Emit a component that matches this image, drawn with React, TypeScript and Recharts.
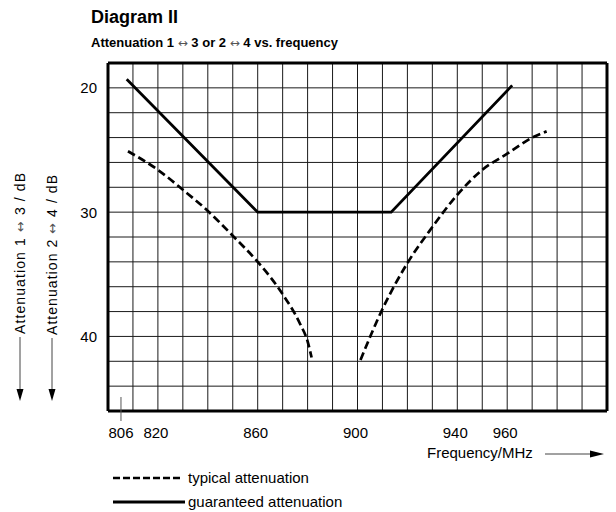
import React from 'react';
import { LineChart, Line, XAxis, YAxis, ReferenceLine } from 'recharts';

const frequencyTicks = [806, 820, 860, 900, 940, 960];
const attenuationTicks = [20, 30, 40];
const gridFrequencies = [810, 820, 830, 840, 850, 860, 870, 880, 890, 900, 910, 920, 930, 940, 950, 960, 970, 980, 990];
const gridAttenuations = [20, 22, 24, 26, 28, 30, 32, 34, 36, 38, 40, 42, 44];
const frameFrequencies = [800, 1000];
const frameAttenuations = [18, 46];

const guaranteedFreq = [807.5, 860, 913.5, 962];
const guaranteedAtt = [19.3, 30, 30, 19.8];
const typicalLowFreq = [808, 820, 830, 840, 850, 860, 870, 877, 880, 881.6];
const typicalLowAtt = [25.1, 26.6, 28.2, 29.9, 31.9, 34.0, 36.6, 39.0, 40.4, 41.7];
const typicalHighFreq = [901.2, 910, 920, 930, 940, 950, 960, 970, 975.8];
const typicalHighAtt = [41.9, 37.8, 34.1, 31.2, 28.6, 26.6, 25.3, 24.0, 23.5];

const toRows = (fs: number[], vs: number[]) => fs.map((f, i) => ({ f, v: vs[i] }));
const guaranteedData = toRows(guaranteedFreq, guaranteedAtt);
const typicalLowData = toRows(typicalLowFreq, typicalLowAtt);
const typicalHighData = toRows(typicalHighFreq, typicalHighAtt);

const FONT = '"Liberation Sans", Arial, Helvetica, sans-serif';
const ARROW_FONT = '"DejaVu Sans", sans-serif';

const XTick = (props: any) => {
  const { x, y, payload } = props;
  return (
    <g>
      {payload.value === 806 && (
        <line x1={x - 2} x2={x - 2} y1={y - 14} y2={y + 10} stroke="#555" strokeWidth={1} />
      )}
      <text x={x - 2} y={y + 27} textAnchor="middle" fontFamily={FONT} fontSize={15} fill="#000">
        {payload.value}
      </text>
    </g>
  );
};

const YTick = (props: any) => {
  const { x, y, payload } = props;
  return (
    <text x={x - 11} y={y + 5.5} textAnchor="end" fontFamily={FONT} fontSize={15} fill="#000">
      {payload.value}
    </text>
  );
};

const Arrow = ({ size }: { size: number }) => (
  <tspan fontFamily={ARROW_FONT} fontSize={size} fontWeight="normal" fill="#555">
    ↔
  </tspan>
);

export default function App() {
  return (
    <div style={{ position: 'absolute', left: 0, top: 0, width: 616, height: 512, background: '#fff' }}>
      <LineChart
        width={616}
        height={512}
        margin={{ top: 63, right: 9, bottom: 61, left: 48 }}
      >
        <XAxis
          type="number"
          dataKey="f"
          domain={[800, 1000]}
          ticks={frequencyTicks}
          interval={0}
          axisLine={false}
          tickLine={false}
          tickSize={0}
          tickMargin={0}
          height={40}
          tick={<XTick />}
          allowDataOverflow
        />
        <YAxis
          type="number"
          domain={[18, 46]}
          reversed
          ticks={attenuationTicks}
          interval={0}
          axisLine={false}
          tickLine={false}
          tickSize={0}
          tickMargin={0}
          width={60}
          tick={<YTick />}
          allowDataOverflow
        />
        {gridFrequencies.map((f) => (
          <ReferenceLine key={'gx' + f} x={f} stroke="#1a1a1a" strokeWidth={1} />
        ))}
        {gridAttenuations.map((a) => (
          <ReferenceLine key={'gy' + a} y={a} stroke="#1a1a1a" strokeWidth={1} />
        ))}
        <Line
          data={typicalLowData}
          dataKey="v"
          type="monotone"
          stroke="#000"
          strokeWidth={2.7}
          strokeDasharray="8 4"
          dot={false}
          isAnimationActive={false}
        />
        <Line
          data={typicalHighData}
          dataKey="v"
          type="monotone"
          stroke="#000"
          strokeWidth={2.7}
          strokeDasharray="8 4"
          dot={false}
          isAnimationActive={false}
        />
        <Line
          data={guaranteedData}
          dataKey="v"
          type="linear"
          stroke="#000"
          strokeWidth={2.8}
          dot={false}
          isAnimationActive={false}
        />
        {frameFrequencies.map((f) => (
          <ReferenceLine key={'fx' + f} x={f} stroke="#000" strokeWidth={3} />
        ))}
        {frameAttenuations.map((a) => (
          <ReferenceLine key={'fy' + a} y={a} stroke="#000" strokeWidth={3} />
        ))}
      </LineChart>
      <svg
        width={616}
        height={512}
        style={{ position: 'absolute', left: 0, top: 0, pointerEvents: 'none' }}
      >
        <text x={91} y={23} fontFamily={FONT} fontSize={18} fontWeight="bold" fill="#000">
          Diagram II
        </text>
        <text x={91} y={47} fontFamily={FONT} fontSize={13} fontWeight="bold" fill="#000">
          Attenuation 1 <Arrow size={12} /> 3 or 2 <Arrow size={12} /> 4 vs. frequency
        </text>

        <text
          transform="translate(25,334) rotate(-90)"
          fontFamily={FONT}
          fontSize={14}
          fill="#000"
          textLength={161}
          lengthAdjust="spacing"
        >
          Attenuation 1 <Arrow size={13} /> 3 / dB
        </text>
        <line x1={20} x2={20} y1={337} y2={391} stroke="#444" strokeWidth={1} />
        <polygon points="16.5,389 23.5,389 20,401" fill="#000" />

        <text
          transform="translate(57,335) rotate(-90)"
          fontFamily={FONT}
          fontSize={14}
          fill="#000"
          textLength={160}
          lengthAdjust="spacing"
        >
          Attenuation 2 <Arrow size={13} /> 4 / dB
        </text>
        <line x1={52} x2={52} y1={338} y2={391} stroke="#444" strokeWidth={1} />
        <polygon points="48.5,389 55.5,389 52,401" fill="#000" />

        <text x={427} y={458} fontFamily={FONT} fontSize={15} fill="#000">
          Frequency/MHz
        </text>
        <line x1={545} x2={592} y1={454} y2={454} stroke="#444" strokeWidth={1} />
        <polygon points="590,450.5 590,457.5 604,454" fill="#000" />

        <line x1={113} x2={182} y1={478} y2={478} stroke="#000" strokeWidth={2.7} strokeDasharray="7 3" />
        <text x={188} y={483} fontFamily={FONT} fontSize={15} fill="#000">
          typical attenuation
        </text>
        <line x1={113} x2={185} y1={502} y2={502} stroke="#000" strokeWidth={2.8} />
        <text x={188} y={507} fontFamily={FONT} fontSize={15} fill="#000">
          guaranteed attenuation
        </text>
      </svg>
    </div>
  );
}
